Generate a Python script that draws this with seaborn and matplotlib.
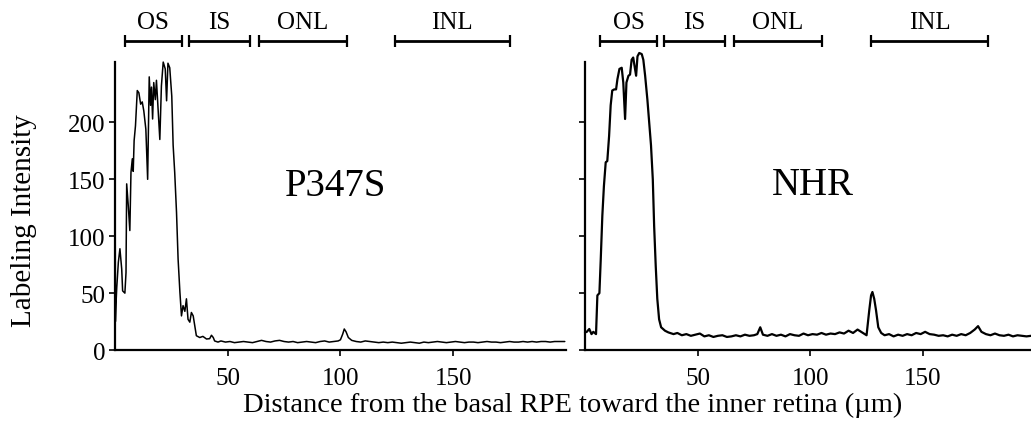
import matplotlib
matplotlib.use("Agg")
import matplotlib.pyplot as plt
import matplotlib.transforms as mtransforms
import seaborn as sns

# P347S profile (distance in um, labeling intensity)
p347s_x = [0, 0.2, 0.5, 0.8, 1.5, 2.2, 3.0, 3.4, 4.4, 4.9,
           5.2, 5.9, 6.6, 7.1, 7.7, 8.1, 8.5, 9.1, 9.9, 10.6,
           11.4, 12.1, 12.8, 13.7, 14.5, 15.2, 15.8, 16.2, 16.7, 17.2,
           17.9, 18.4, 19.2, 19.9, 20.6, 21.4, 22.3, 22.9, 23.5, 24.3,
           25.2, 25.8, 26.5, 27.3, 28.0, 28.8, 29.5, 30.2, 31.0, 31.7,
           32.4, 33.2, 33.9, 34.7, 35.4, 36.1, 37.6, 39.0, 40.6, 42.0,
           42.8, 43.6, 44.2, 45.7, 47, 49, 51, 53, 55, 57,
           59, 61, 63, 65, 67, 69, 71, 73, 75, 77,
           79, 81, 83, 85, 87, 89, 91, 93, 95, 97,
           99, 100, 101, 101.7, 102.5, 103.5, 105, 107, 109, 111,
           113, 115, 117, 119, 121, 123, 125, 127, 129, 131,
           133, 135, 137, 139, 141, 143, 145, 147, 149, 151,
           153, 155, 157, 159, 161, 163, 165, 167, 169, 171,
           173, 175, 177, 179, 181, 183, 185, 187, 189, 191,
           193, 195, 197, 199.5]
p347s_y = [217, 25, 42, 55, 77, 89, 71, 52, 50, 68,
           146, 127, 105, 156, 168, 157, 184, 197, 228, 226,
           216, 218, 210, 194, 150, 240, 215, 231, 203, 235,
           220, 237, 210, 185, 232, 253, 247, 219, 252, 248,
           223, 180, 156, 121, 80, 51, 30, 39, 34, 45,
           27, 24.5, 33, 30, 21, 12.6, 11, 12, 9.7, 10,
           13, 11, 8, 7, 8, 7, 7.5, 6.5, 7, 7.5,
           7, 6.5, 7.5, 8.5, 7.5, 7, 8, 8.5, 7.5, 7,
           7.5, 6.5, 7, 7.5, 7, 6.5, 7.5, 8, 7, 7.5,
           8, 9, 14, 18.5, 16, 11, 8.5, 7.5, 7, 8,
           7.5, 7, 6.5, 7, 6.5, 7, 6.5, 6, 6.5, 7,
           6.5, 6, 7, 6.5, 7, 7.5, 7, 6.5, 7, 7.5,
           7, 6.5, 7, 7, 6.5, 7, 7.5, 7, 7, 6.5,
           7, 7.5, 7, 7, 7.5, 7, 7.5, 7, 7.5, 7.5,
           7, 7.5, 7.5, 7.5]

# NHR profile
nhr_x = [0, 0.8, 1.9, 2.9, 3.7, 4.9, 5.5, 6.4, 7.0, 7.7,
         8.4, 9.2, 9.9, 10.7, 11.4, 12.1, 13.0, 13.8, 14.4, 15.3,
         16.3, 17.0, 17.8, 18.4, 19.3, 20.0, 20.7, 21.4, 22.7, 23.3,
         24.1, 25.2, 25.9, 26.7, 27.7, 28.6, 29.3, 30.1, 30.7, 31.4,
         32.1, 32.9, 33.8, 35.5, 37.0, 39.3, 41, 43, 45, 47,
         49, 51, 53, 55, 57, 59, 61, 63, 65, 67,
         69, 71, 73, 75, 76.5, 77.8, 79, 81, 83, 85,
         87, 89, 91, 93, 95, 97, 99, 101, 103, 105,
         107, 109, 111, 113, 115, 117, 119, 121, 123, 125,
         126.2, 127.0, 127.6, 128.4, 129.2, 130.2, 131.5, 133, 135, 137,
         139, 141, 143, 145, 147, 149, 151, 153, 155, 157,
         159, 161, 163, 165, 167, 169, 171, 173, 174.5, 176,
         178, 180, 182, 184, 186, 188, 190, 192, 194, 196,
         198]
nhr_y = [15.5, 16, 18.5, 14, 16, 14, 48, 50, 80, 118,
         144, 165, 166, 188, 215, 228, 229, 229, 238, 247,
         248, 235, 203, 235, 241, 242, 255, 257, 241, 258,
         261, 260, 255, 241, 220, 197, 180, 150, 109, 74,
         45, 27, 20, 17, 15.5, 14, 15, 13, 14, 12.5,
         13.5, 14.5, 12, 13, 11.5, 12.5, 13, 11.5, 12, 13,
         12, 13.5, 12.5, 13, 14, 20, 13.5, 12.5, 14, 12.5,
         13.5, 12, 14, 13, 12.5, 14.5, 13, 14, 13.5, 15,
         13.5, 14.5, 14, 15.5, 14.5, 17, 15, 18, 15.5, 13,
         35, 48, 51, 45, 35, 20, 15, 13, 14, 12,
         13.5, 12.5, 14, 13, 15, 14, 16, 14, 13.5, 12.5,
         13, 12, 13.5, 12.5, 14, 13, 15, 18, 21, 16,
         14, 13, 14.5, 13, 12.5, 13.5, 12, 13, 12.5, 12,
         12.5]

# retinal layers shown above each panel
layers = ["OS", "IS", "ONL", "INL"]
p347s_start = [4.4, 32.7, 63.7, 124]
p347s_end = [29.6, 59.7, 102.7, 175]
nhr_start = [6.7, 35, 66, 127]
nhr_end = [32, 62, 105, 179]

y_ticks = [0, 50, 100, 150, 200]
x_ticks = [50, 100, 150]

sns.set_theme(style="ticks")
plt.rcParams['font.family'] = ['Liberation Serif', 'DejaVu Serif']
plt.rcParams['text.color'] = 'black'
plt.rcParams['axes.labelcolor'] = 'black'
plt.rcParams['xtick.color'] = 'black'
plt.rcParams['ytick.color'] = 'black'

fig = plt.figure(figsize=(10.31, 4.35), dpi=100)
ax1 = fig.add_axes([0.1115, 0.193, 0.4374, 0.662])
ax2 = fig.add_axes([0.5674, 0.193, 0.4326, 0.662])


def draw_layers(ax, starts, ends):
    trans = mtransforms.blended_transform_factory(ax.transData, ax.transAxes)
    for name, s, e in zip(layers, starts, ends):
        ax.plot([s, e], [1.073, 1.073], transform=trans, color='black',
                lw=2.0, clip_on=False, solid_capstyle='butt')
        ax.plot([s, e], [1.073, 1.073], transform=trans, color='black',
                marker='|', ms=8, mew=1.6, ls='none', clip_on=False)
        ax.text((s + e) / 2, 1.14, name, transform=trans, ha='center',
                va='center', fontsize=18, color='black')


def style_panel(ax, xmax, lw):
    ax.lines[-1].set_clip_on(False)
    ax.lines[-1].set_linewidth(lw)
    ax.set_xlim(0, xmax)
    ax.set_ylim(0, 253)
    ax.set_xticks(x_ticks)
    ax.set_yticks(y_ticks)
    ax.set_xlabel('')
    ax.set_ylabel('')
    for side in ['top', 'right']:
        ax.spines[side].set_visible(False)
    for side in ['left', 'bottom']:
        ax.spines[side].set_linewidth(1.6)
        ax.spines[side].set_color('black')
    ax.tick_params(axis='both', colors='black', labelsize=18, direction='out',
                   length=4, width=1.2)
    ax.tick_params(axis='x', pad=8)
    ax.tick_params(axis='y', pad=3)
    ax.set_facecolor('white')


sns.lineplot(x=p347s_x, y=p347s_y, ax=ax1, color='black', estimator=None)
style_panel(ax1, 200, 1.1)
draw_layers(ax1, p347s_start, p347s_end)
ax1.text(0.49, 0.57, 'P347S', transform=ax1.transAxes, ha='center',
         va='center', fontsize=28, color='black')

sns.lineplot(x=nhr_x, y=nhr_y, ax=ax2, color='black', estimator=None)
style_panel(ax2, 198, 1.6)
ax2.set_yticklabels([])
draw_layers(ax2, nhr_start, nhr_end)
ax2.text(0.51, 0.575, 'NHR', transform=ax2.transAxes, ha='center',
         va='center', fontsize=28, color='black')

fig.text(0.023, 0.492, 'Labeling Intensity', rotation=90, ha='center',
         va='center', fontsize=21, color='black')
fig.text(0.555, 0.069, 'Distance from the basal RPE toward the inner retina (µm)',
         ha='center', va='center', fontsize=20.5, color='black')

fig.savefig('out.png', dpi=100, facecolor='white')
